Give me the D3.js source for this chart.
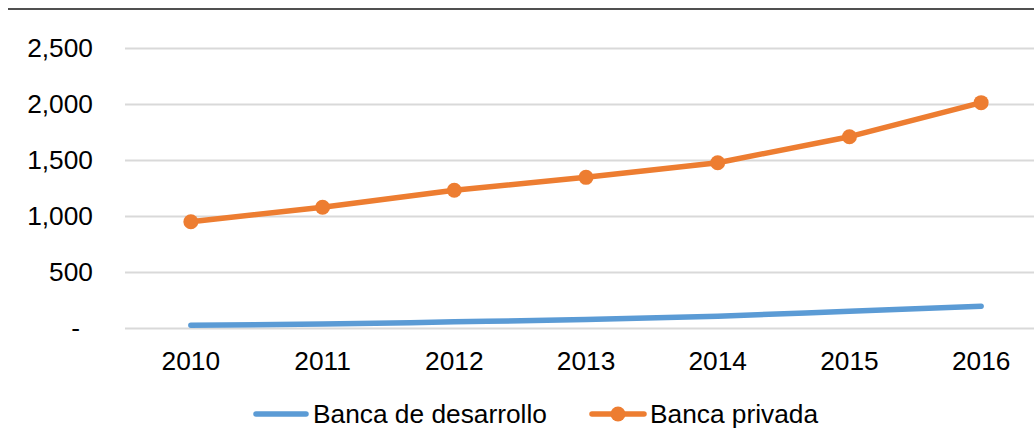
<!DOCTYPE html>
<html>
<head>
<meta charset="utf-8">
<script src="https://cdn.jsdelivr.net/npm/d3@7"></script>
<style>
  html, body { margin: 0; padding: 0; background: #fff; }
  svg { display: block; font-family: "Liberation Sans", Arial, sans-serif; }
</style>
</head>
<body>
<svg id="chart" width="1034" height="445"></svg>
<script>
// Years on the category axis
const years = ["2010", "2011", "2012", "2013", "2014", "2015", "2016"];
// Series values
const bancaDesarrollo = [25, 35, 55, 75, 105, 150, 195];
const bancaPrivada = [949, 1078, 1230, 1345, 1476, 1708, 2012];
// Value axis ticks
const yTicks = [0, 500, 1000, 1500, 2000, 2500];
const seriesNames = ["Banca de desarrollo", "Banca privada"];

const W = 1034, H = 445;
const plotLeft = 125, plotRight = 1047, plotTop = 48, plotBottom = 328;
const FONT = 26.3;

const svg = d3.select("#chart");

const x = d3.scaleBand().domain(years).range([plotLeft, plotRight]);
const y = d3.scaleLinear().domain([0, 2500]).range([plotBottom, plotTop]);
const cx = d => x(d) + x.bandwidth() / 2;

// Top rule
svg.append("line")
  .attr("x1", 8).attr("x2", W).attr("y1", 9).attr("y2", 9)
  .attr("stroke", "#505050").attr("stroke-width", 2);

// Horizontal gridlines with value labels
const yAxis = d3.axisLeft(y)
  .tickValues(yTicks)
  .tickSize(-(W - plotLeft))
  .tickPadding(32)
  .tickFormat(v => v === 0 ? "-" : d3.format(",")(v));

const gy = svg.append("g")
  .attr("transform", `translate(${plotLeft},0)`)
  .call(yAxis);
gy.select(".domain").remove();
gy.selectAll(".tick line").attr("stroke", "#d9d9d9").attr("stroke-width", 2);
gy.selectAll(".tick text")
  .attr("fill", "#000")
  .style("font-size", FONT + "px")
  .attr("dy", "0.32em");
gy.selectAll(".tick").filter(d => d === 0).select("text").attr("dx", -13);

// Category labels
const xAxis = d3.axisBottom(x).tickSize(0).tickPadding(0);
const gx = svg.append("g")
  .attr("transform", `translate(0,${plotBottom})`)
  .call(xAxis);
gx.select(".domain").remove();
gx.selectAll(".tick text")
  .attr("fill", "#000")
  .style("font-size", FONT + "px")
  .attr("dy", null)
  .attr("y", 42);

// Lines
const lineBlue = d3.line()
  .x((d, i) => cx(years[i]))
  .y(d => y(d))
  .curve(d3.curveMonotoneX);
const lineOrange = d3.line()
  .x((d, i) => cx(years[i]))
  .y(d => y(d));

svg.append("path")
  .datum(bancaDesarrollo)
  .attr("d", lineBlue)
  .attr("fill", "none")
  .attr("stroke", "#5b9bd5")
  .attr("stroke-width", 5.5)
  .attr("stroke-linecap", "round")
  .attr("stroke-linejoin", "round");

svg.append("path")
  .datum(bancaPrivada)
  .attr("d", lineOrange)
  .attr("fill", "none")
  .attr("stroke", "#ed7d31")
  .attr("stroke-width", 5.5)
  .attr("stroke-linecap", "round")
  .attr("stroke-linejoin", "round");

svg.append("g").selectAll("circle")
  .data(bancaPrivada)
  .join("circle")
  .attr("cx", (d, i) => cx(years[i]))
  .attr("cy", d => y(d))
  .attr("r", 7.5)
  .attr("fill", "#ed7d31");

// Legend
const legY = 414;
const leg = svg.append("g");
leg.append("line")
  .attr("x1", 256).attr("x2", 306).attr("y1", legY).attr("y2", legY)
  .attr("stroke", "#5b9bd5").attr("stroke-width", 5.5).attr("stroke-linecap", "round");
leg.append("text")
  .attr("x", 313).attr("y", legY).attr("dy", "0.35em")
  .style("font-size", FONT + "px").attr("fill", "#000")
  .text(seriesNames[0]);
leg.append("line")
  .attr("x1", 592).attr("x2", 644).attr("y1", legY).attr("y2", legY)
  .attr("stroke", "#ed7d31").attr("stroke-width", 5.5).attr("stroke-linecap", "round");
leg.append("circle")
  .attr("cx", 618).attr("cy", legY).attr("r", 7.5).attr("fill", "#ed7d31");
leg.append("text")
  .attr("x", 650).attr("y", legY).attr("dy", "0.35em")
  .style("font-size", FONT + "px").attr("fill", "#000")
  .text(seriesNames[1]);
</script>
</body>
</html>
